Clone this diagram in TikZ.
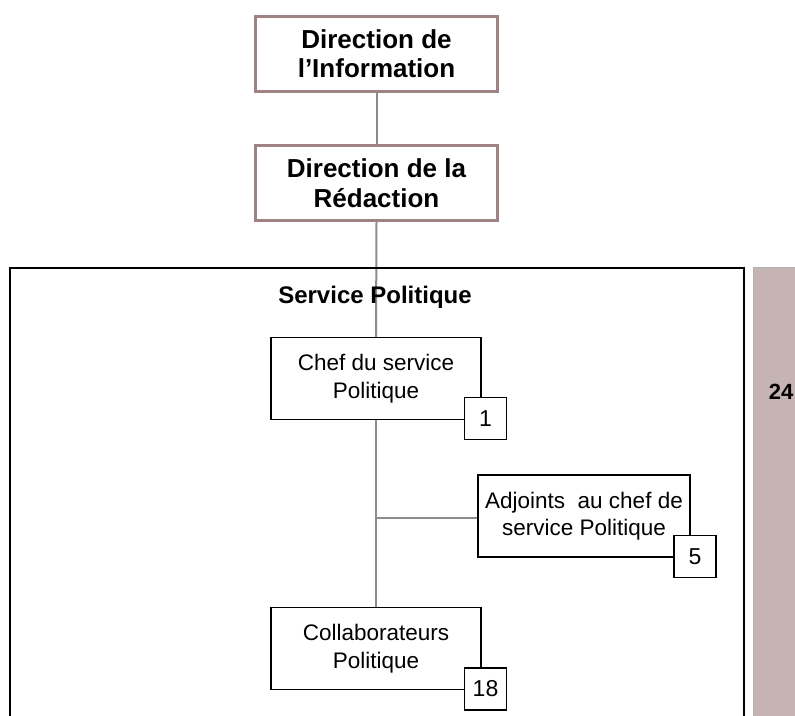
\documentclass[tikz,border=0pt]{standalone}
\usepackage{fontspec}
\setmainfont{Liberation Sans}
\definecolor{dirborder}{HTML}{A08282}
\definecolor{linkgray}{HTML}{8C8C8C}
\definecolor{barfill}{HTML}{C6B4B4}
\pgfdeclarelayer{paper}
\pgfdeclarelayer{links}
\pgfsetlayers{paper,links,main}
\begin{document}
\begin{tikzpicture}[x=1pt,y=-1pt,
  dirbox/.style={draw=dirborder,line width=3pt,fill=white,rectangle,
    minimum width=242pt,minimum height=75pt,align=center,inner sep=0pt,
    font=\fontsize{26}{29.5}\selectfont\bfseries},
  unitbox/.style={draw=black,line width=1.4pt,fill=white,rectangle,
    minimum width=210pt,minimum height=82pt,align=center,inner sep=0pt,
    font=\fontsize{22.5}{27.5}\selectfont},
  countbox/.style={draw=black,line width=1.4pt,fill=white,rectangle,
    minimum width=42pt,minimum height=42pt,inner sep=0pt,
    font=\fontsize{23}{26}\selectfont},
  link/.style={draw=linkgray,line width=2pt}]
\useasboundingbox (0,0) rectangle (795,715);
\begin{pgfonlayer}{paper}
  \fill[white] (0,0) rectangle (795,715);
\end{pgfonlayer}

% staff total bar on the right
\fill[barfill] (753,267) rectangle (795,716);
\draw[gray!60,line width=0.8pt] (753,716) -- (753,267) -- (796,267);
\node[font=\fontsize{22}{26}\selectfont\bfseries] (total) at (781,392) {24};

% service frame (open at the bottom)
\draw[black,line width=1.4pt] (10,716) -- (10,268) -- (744,268) -- (744,716);
\node[font=\fontsize{24}{28}\selectfont\bfseries] (svc) at (375,297) {Service Politique};

% management boxes
\node[dirbox] (info) at (376.5,53.5) {Direction de\\l’Information};
\node[dirbox] (redac) at (376.5,183) {Direction de la\\Rédaction};

% service units
\node[unitbox] (chef) at (376,378.5) {Chef du service\\Politique};
\node[unitbox,minimum width=212pt] (adj) at (584,516) {Adjoints\ \ au chef de\\service Politique};
\node[unitbox] (collab) at (376,648.5) {Collaborateurs\\Politique};

% head counts
\node[countbox] (n1) at (485.5,418.5) {1};
\node[countbox] (n5) at (695,556.5) {5};
\node[countbox] (n18) at (485.5,689) {18};

% connectors, kept underneath the boxes
\begin{pgfonlayer}{links}
  \coordinate (branch) at (chef.south |- 0,518);
  \draw[link] (info.south) -- (redac.north);
  \draw[link] (redac.south) -- (chef.north);
  \draw[link] (chef.south) -- (collab.north);
  \draw[link] (branch) -- (adj.west |- branch);
\end{pgfonlayer}
\end{tikzpicture}
\end{document}
